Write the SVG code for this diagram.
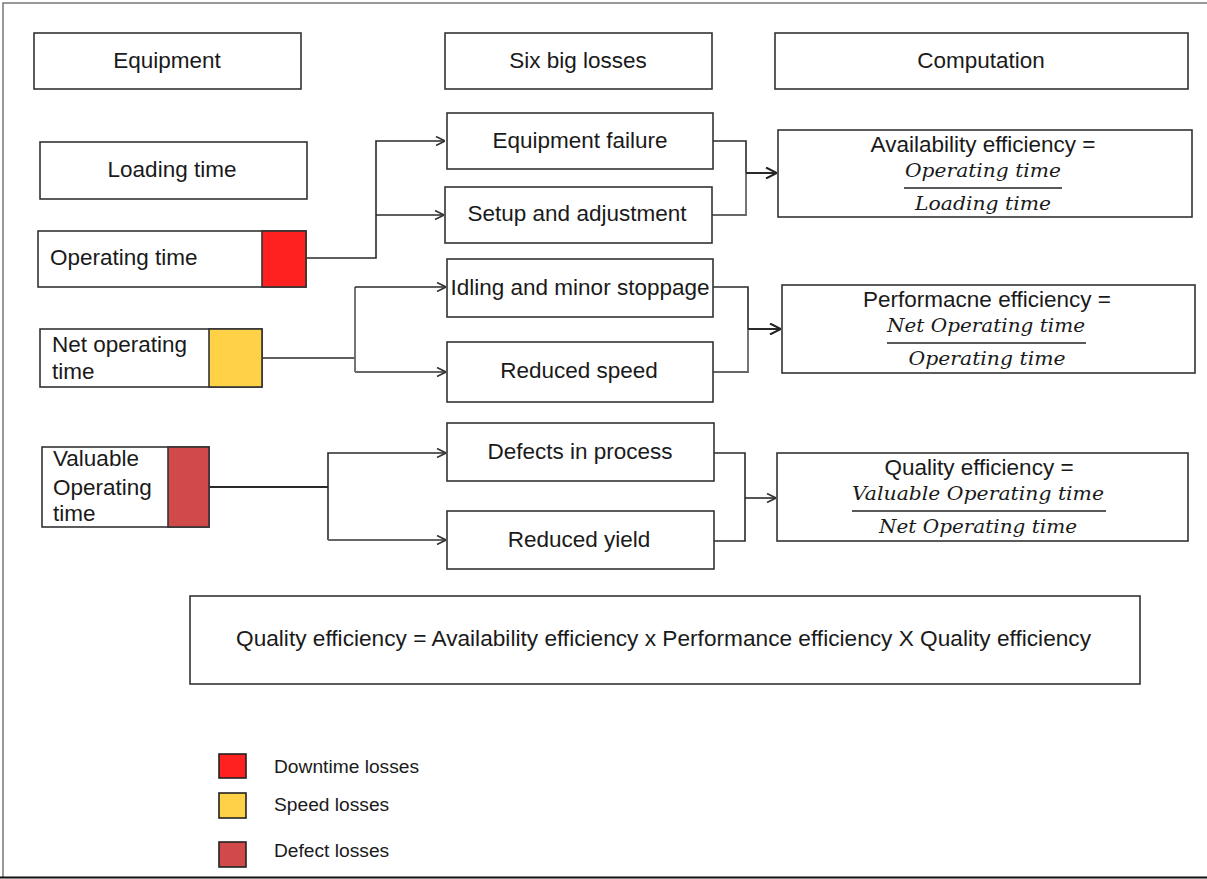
<svg xmlns="http://www.w3.org/2000/svg" width="1207" height="879" viewBox="0 0 1207 879">
<defs>
<style>
.box{fill:#fff;stroke:#333;stroke-width:1.6}
.t{font-family:"Liberation Sans",Arial,sans-serif;font-size:22.5px;fill:#1a1a1a}
.c{text-anchor:middle}
.m{font-family:"DejaVu Serif","Liberation Serif",serif;font-style:italic;font-size:18px;fill:#1a1a1a;text-anchor:middle}
.lg{font-family:"Liberation Sans",Arial,sans-serif;font-size:19.2px;fill:#1a1a1a}
.ln{fill:none;stroke:#2a2a2a;stroke-width:1.6}
.lg2{fill:none;stroke:#666;stroke-width:1.8}
.frac{stroke:#222;stroke-width:1.4}
</style>
<marker id="ar" viewBox="0 0 10 10" refX="10" refY="5" markerWidth="10" markerHeight="10" markerUnits="userSpaceOnUse" orient="auto">
<path d="M1,0.5 L10,5 L1,9.5" fill="none" stroke="#333" stroke-width="1.6"/>
</marker>
<marker id="ar2" viewBox="0 0 12 12" refX="12" refY="6" markerWidth="12" markerHeight="12" markerUnits="userSpaceOnUse" orient="auto">
<path d="M1,0.5 L12,6 L1,11.5" fill="none" stroke="#222" stroke-width="2"/>
</marker>
</defs>
<rect width="1207" height="879" fill="#fff"/>
<g id="frame">
<path d="M3,878 L3,3 L1207,3" fill="none" stroke="#777" stroke-width="1.5"/>
<line x1="0" y1="877.5" x2="1207" y2="877.5" stroke="#111" stroke-width="2"/>
</g>

<g id="connectors">
<polyline class="ln" points="306,258 376,258 376,141 445,141" marker-end="url(#ar)"/>
<polyline class="ln" points="376,215 444,215" marker-end="url(#ar)"/>
<polyline class="ln" points="262,358 355,358"/>
<polyline class="lg2" points="355,372 355,287"/>
<polyline class="ln" points="355,287 446,287" marker-end="url(#ar)"/>
<polyline class="lg2" points="355,372 446,372" marker-end="url(#ar)"/>
<polyline class="ln" points="209,487 328,487" style="stroke-width:2.2"/>
<polyline class="ln" points="328,540 328,453 446,453" marker-end="url(#ar)"/>
<polyline class="lg2" points="328,540 446,540" marker-end="url(#ar)"/>
<polyline class="ln" points="713,141 746,141 746,173"/>
<polyline class="lg2" points="712,215 746,215 746,173"/>
<polyline class="ln" points="746,173 777,173" marker-end="url(#ar2)" style="stroke-width:2"/>
<polyline class="ln" points="713,287 748,287 748,329"/>
<polyline class="lg2" points="713,372 748,372 748,329"/>
<polyline class="ln" points="748,329 781,329" marker-end="url(#ar2)" style="stroke-width:2"/>
<polyline class="ln" points="714,453 745,453 745,541 714,541"/>
<polyline class="ln" points="745,498 776,498" marker-end="url(#ar)"/>
</g>

<g id="hdr-equipment"><rect class="box" x="34" y="33" width="267" height="56"/><text class="t c" x="167" y="68">Equipment</text></g>
<g id="hdr-losses"><rect class="box" x="445" y="33" width="267" height="56"/><text class="t c" x="578" y="68">Six big losses</text></g>
<g id="hdr-computation"><rect class="box" x="775" y="33" width="413" height="56"/><text class="t c" x="981" y="68">Computation</text></g>

<g id="loading-time"><rect class="box" x="40" y="142" width="267" height="57"/><text class="t c" x="172" y="177">Loading time</text></g>
<g id="operating-time"><rect class="box" x="38" y="231" width="268" height="56"/><rect x="262" y="231" width="44" height="56" fill="#ff2020" stroke="#333" stroke-width="1.6"/><text class="t" x="50" y="265">Operating time</text></g>
<g id="net-operating-time"><rect class="box" x="40" y="329" width="222" height="58"/><rect x="209" y="329" width="53" height="58" fill="#ffd147" stroke="#333" stroke-width="1.6"/><text class="t" x="52" y="352">Net operating</text><text class="t" x="52" y="379">time</text></g>
<g id="valuable-operating-time"><rect class="box" x="42" y="447" width="167" height="80"/><rect x="168" y="447" width="41" height="80" fill="#d04a4a" stroke="#333" stroke-width="1.6"/><text class="t" x="53" y="466">Valuable</text><text class="t" x="53" y="495">Operating</text><text class="t" x="53" y="521">time</text></g>

<g id="equipment-failure"><rect class="box" x="447" y="113" width="266" height="56"/><text class="t c" x="580" y="148">Equipment failure</text></g>
<g id="setup-adjustment"><rect class="box" x="445" y="187" width="267" height="56"/><text class="t c" x="577" y="221">Setup and adjustment</text></g>
<g id="idling"><rect class="box" x="447" y="259" width="266" height="58"/><text class="t c" x="580" y="295">Idling and minor stoppage</text></g>
<g id="reduced-speed"><rect class="box" x="447" y="342" width="266" height="60"/><text class="t c" x="579" y="378">Reduced speed</text></g>
<g id="defects"><rect class="box" x="447" y="423" width="267" height="58"/><text class="t c" x="580" y="459">Defects in process</text></g>
<g id="reduced-yield"><rect class="box" x="447" y="511" width="267" height="58"/><text class="t c" x="579" y="547">Reduced yield</text></g>

<g id="availability"><rect class="box" x="778" y="130" width="414" height="87"/>
<text class="t c" x="983" y="152">Availability efficiency =</text>
<text class="m" x="983" y="177" textLength="156" lengthAdjust="spacingAndGlyphs">Operating time</text>
<line class="frac" x1="904" y1="188" x2="1062" y2="188"/>
<text class="m" x="983" y="210" textLength="136" lengthAdjust="spacingAndGlyphs">Loading time</text></g>

<g id="performance"><rect class="box" x="782" y="285" width="413" height="88"/>
<text class="t c" x="987" y="307">Performacne efficiency =</text>
<text class="m" x="986" y="332" textLength="198" lengthAdjust="spacingAndGlyphs">Net Operating time</text>
<line class="frac" x1="887" y1="343" x2="1086" y2="343"/>
<text class="m" x="987" y="365" textLength="157" lengthAdjust="spacingAndGlyphs">Operating time</text></g>

<g id="quality"><rect class="box" x="777" y="453" width="411" height="88"/>
<text class="t c" x="979" y="475">Quality efficiency =</text>
<text class="m" x="978" y="500" textLength="252" lengthAdjust="spacingAndGlyphs">Valuable Operating time</text>
<line class="frac" x1="852" y1="511" x2="1106" y2="511"/>
<text class="m" x="978" y="533" textLength="198" lengthAdjust="spacingAndGlyphs">Net Operating time</text></g>

<g id="overall"><rect class="box" x="190" y="596" width="950" height="88"/>
<text class="t" x="236" y="646" textLength="855" lengthAdjust="spacingAndGlyphs">Quality efficiency = Availability efficiency x Performance efficiency X Quality efficiency</text></g>

<g id="legend">
<rect x="219" y="754" width="27" height="24" fill="#ff2020" stroke="#222" stroke-width="1.6"/>
<text class="lg" x="274" y="773">Downtime losses</text>
<rect x="219" y="793" width="27" height="25" fill="#ffd147" stroke="#222" stroke-width="1.6"/>
<text class="lg" x="274" y="811">Speed losses</text>
<rect x="219" y="842" width="27" height="25" fill="#d04a4a" stroke="#222" stroke-width="1.6"/>
<text class="lg" x="274" y="857">Defect losses</text>
</g>
</svg>
